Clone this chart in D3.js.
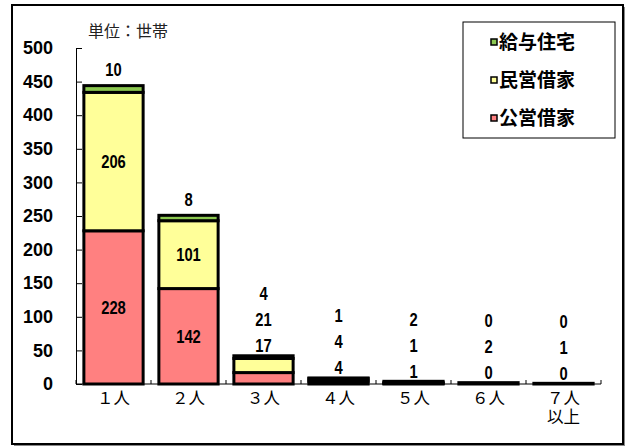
<!DOCTYPE html>
<html><head><meta charset="utf-8">
<script src="https://cdn.jsdelivr.net/npm/d3@7"></script>
<style>
body{margin:0;background:#fff;}
svg{display:block;}
</style></head>
<body><svg id="c" width="628" height="448"></svg>
<script>
const categories = ["１人","２人","３人","４人","５人","６人","７人\n以上"];
const seriesNames = ["公営借家","民営借家","給与住宅"];
const kouei = [228,142,17,4,1,0,0];
const minei = [206,101,21,4,1,2,1];
const kyuyo = [10,8,4,1,2,0,0];
const colors = ["#ff8080","#ffff99","#8cc850"];
const yTicks = [0,50,100,150,200,250,300,350,400,450,500];
const unitLabel = "単位：世帯";

const svg = d3.select("#c");
const X0=76, X1=601, Y0=384, Y1=48;
const x = d3.scaleBand().domain(categories).range([X0,X1]).paddingInner(0.21).paddingOuter(0.105);
const y = d3.scaleLinear().domain([0,500]).range([Y0,Y1]);

// outer frame
svg.append("rect").attr("x",14).attr("y",7).attr("width",611).attr("height",439).attr("fill","#888");
svg.append("rect").attr("x",12).attr("y",5).attr("width",611).attr("height",439).attr("fill","#fff").attr("stroke","#000").attr("stroke-width",2);

const rows = categories.map((c,i)=>({cat:c,"公営借家":kouei[i],"民営借家":minei[i],"給与住宅":kyuyo[i]}));
const stack = d3.stack().keys(seriesNames)(rows);

// y axis
const yAxis = d3.axisLeft(y).tickValues(yTicks).tickSize(-6).tickPadding(0).tickFormat(d3.format("d"));
const ga = svg.append("g").attr("transform",`translate(${X0},0)`).call(yAxis);
ga.select(".domain").attr("stroke","#000");
ga.selectAll(".tick line").attr("stroke","#000");
ga.selectAll(".tick text").attr("x",-23).attr("font-family","'Liberation Sans',Arial,sans-serif").attr("font-weight","bold").attr("font-size",18).attr("fill","#000");

// x axis
svg.append("line").attr("x1",X0).attr("x2",X1).attr("y1",Y0).attr("y2",Y0).attr("stroke","#000");
const bounds = d3.range(categories.length+1).map(i=>X0+i*x.step());
svg.selectAll(".xt").data(bounds).enter().append("line").attr("x1",d=>d).attr("x2",d=>d).attr("y1",Y0).attr("y2",Y0-4).attr("stroke","#000");

// bars
stack.forEach((s,si)=>{
  svg.append("g").selectAll("rect").data(s).enter().append("rect")
    .attr("x",d=>x(d.data.cat)).attr("width",x.bandwidth())
    .attr("y",d=>y(d[1])).attr("height",d=>Math.max(0,y(d[0])-y(d[1])))
    .attr("fill",colors[si]).attr("stroke","#000").attr("stroke-width",3);
});

// data labels
const lf = "'Liberation Sans',Arial,sans-serif";
rows.forEach((r,i)=>{
  const cx = x(r.cat)+x.bandwidth()/2;
  const total = kouei[i]+minei[i]+kyuyo[i];
  const top = y(total);
  let pos;
  if (total > 100) {
    pos = [ (y(0)+y(kouei[i]))/2, (y(kouei[i])+y(kouei[i]+minei[i]))/2, top-16 ];
  } else {
    pos = [ top-10, top-36, top-62 ];
  }
  [kouei[i],minei[i],kyuyo[i]].forEach((v,k)=>{
    svg.append("text").attr("transform",`translate(${cx},${pos[k]}) scale(0.82,1)`).attr("dy","0.36em").attr("text-anchor","middle")
      .attr("font-family",lf).attr("font-weight","bold").attr("font-size",18).text(v);
  });
});

// x labels
categories.forEach(c=>{
  const lines = c.split("\n");
  const t = svg.append("text").attr("text-anchor","middle").attr("font-family","'Noto Sans CJK JP',sans-serif").attr("font-size",16.5).attr("fill","#000");
  lines.forEach((l,j)=>{
    t.append("tspan").attr("x",x(c)+x.bandwidth()/2).attr("y",404+j*19).text(l);
  });
});

// unit label
svg.append("text").attr("x",88).attr("y",37).attr("font-family","'Noto Sans CJK JP',sans-serif").attr("font-size",16).attr("fill","#222").text(unitLabel);

// legend
svg.append("rect").attr("x",463).attr("y",22).attr("width",152).attr("height",116).attr("fill","#fff").attr("stroke","#000");
const legOrder = [2,1,0];
legOrder.forEach((si,j)=>{
  const cy = 42 + j*38;
  svg.append("rect").attr("x",491).attr("y",cy-3).attr("width",6).attr("height",6).attr("fill",colors[si]).attr("stroke","#000").attr("stroke-width",1.5);
  svg.append("text").attr("x",499).attr("y",cy).attr("dy","0.36em").attr("font-family","'Noto Sans CJK JP',sans-serif").attr("font-weight","bold").attr("font-size",19).text(seriesNames[si]);
});
</script></body></html>
